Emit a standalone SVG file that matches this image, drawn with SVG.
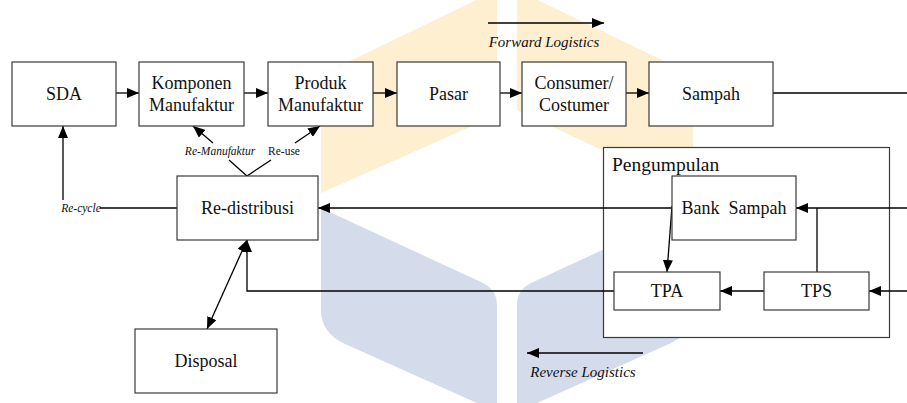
<svg xmlns="http://www.w3.org/2000/svg" width="907" height="403" viewBox="0 0 907 403">
  <style>
    .box { fill: #ffffff; stroke: #3a3a3a; stroke-width: 1.2; }
    .t { font-family: "Liberation Serif", "Times New Roman", Times, "DejaVu Serif", serif; font-size: 18px; fill: #111; text-anchor: middle; }
    .lbl { font-family: "Liberation Serif", "Times New Roman", Times, "DejaVu Serif", serif; font-size: 11.5px; fill: #111; text-anchor: middle; }
    .it { font-style: italic; }
    .edge { fill: none; stroke: #000; stroke-width: 1.3; }
    .arr { marker-end: url(#head); }
  </style>
  <defs>
    <marker id="head" markerUnits="userSpaceOnUse" markerWidth="12" markerHeight="10" viewBox="0 0 12 10" refX="12" refY="5" orient="auto-start-reverse">
      <path d="M0,0 L12,5 L0,10 Z" fill="#000"/>
    </marker>
  </defs>

  <!-- background emblem -->
  <g id="emblem">
    <path d="M321,75 L497,-10 L497,115 L321,193 Z" fill="#fdefd0"/>
    <path d="M517,-10 L693,75 L693,193 L517,110 Z" fill="#fdefd0"/>
    <path d="M321,208 L483,283 Q497,290 497,305 L497,412 L345,344 Q321,333 321,310 Z" fill="#d4dcec"/>
    <path d="M693,208 L531,283 Q517,290 517,305 L517,412 L669,344 Q693,333 693,310 Z" fill="#d4dcec"/>
  </g>

  <!-- collection area frame, under its own connectors -->
  <g id="pengumpulan">
    <rect class="box" x="603.5" y="147.5" width="286" height="190"/>
    <text class="t" x="612" y="171" style="text-anchor:start;font-size:19.5px">Pengumpulan</text>
  </g>

  <!-- connectors -->
  <g id="connectors">
    <line class="edge arr" x1="116" y1="93" x2="139" y2="93"/>
    <line class="edge arr" x1="244" y1="93" x2="268" y2="93"/>
    <line class="edge arr" x1="373" y1="93" x2="397" y2="93"/>
    <line class="edge arr" x1="500" y1="93" x2="522" y2="93"/>
    <line class="edge arr" x1="626" y1="93" x2="649" y2="93"/>
    <line class="edge" x1="773" y1="93" x2="907" y2="93"/>

    <!-- flow direction legends -->
    <line class="edge arr" x1="488" y1="23" x2="604" y2="23"/>
    <line class="edge arr" x1="643" y1="353" x2="527" y2="353"/>

    <!-- re-cycle back to SDA -->
    <line class="edge" x1="177" y1="208" x2="100" y2="208"/>
    <line class="edge arr" x1="63" y1="200" x2="63" y2="126"/>

    <!-- re-manufaktur / re-use -->
    <line class="edge" x1="247" y1="176" x2="229" y2="160"/>
    <line class="edge arr" x1="213" y1="143" x2="193" y2="126"/>
    <line class="edge" x1="247" y1="176" x2="271" y2="160"/>
    <line class="edge arr" x1="295" y1="143" x2="320" y2="126"/>

    <!-- return flows -->
    <line class="edge arr" x1="672" y1="208" x2="318" y2="208"/>
    <polyline class="edge arr" points="614,291 247,291 247,240"/>
    <line class="edge arr" x1="247" y1="240" x2="207" y2="329" marker-start="url(#head)"/>

    <!-- inside Pengumpulan -->
    <line class="edge arr" x1="672" y1="206" x2="667" y2="272"/>
    <line class="edge arr" x1="907" y1="208" x2="796" y2="208"/>
    <line class="edge" x1="817" y1="272" x2="817" y2="208"/>
    <line class="edge arr" x1="764" y1="291" x2="720" y2="291"/>
    <line class="edge arr" x1="907" y1="291" x2="869" y2="291"/>
  </g>

  <g id="sda">
    <rect class="box" x="12" y="62" width="104" height="64"/>
    <text class="t" x="64" y="100">SDA</text>
  </g>
  <g id="komponen">
    <rect class="box" x="139" y="62" width="105" height="64"/>
    <text class="t" x="191.5" y="89">Komponen</text>
    <text class="t" x="191.5" y="111">Manufaktur</text>
  </g>
  <g id="produk">
    <rect class="box" x="268" y="62" width="105" height="64"/>
    <text class="t" x="320.5" y="89">Produk</text>
    <text class="t" x="320.5" y="111">Manufaktur</text>
  </g>
  <g id="pasar">
    <rect class="box" x="397" y="62" width="103" height="64"/>
    <text class="t" x="448.5" y="100">Pasar</text>
  </g>
  <g id="consumer">
    <rect class="box" x="522" y="62" width="104" height="64"/>
    <text class="t" x="574" y="89">Consumer/</text>
    <text class="t" x="574" y="111">Costumer</text>
  </g>
  <g id="sampah">
    <rect class="box" x="649" y="62" width="124" height="64"/>
    <text class="t" x="711" y="100">Sampah</text>
  </g>

  <g id="redistribusi">
    <rect class="box" x="177" y="176" width="141" height="64"/>
    <text class="t" x="247.5" y="214">Re-distribusi</text>
  </g>
  <g id="disposal">
    <rect class="box" x="135" y="329" width="142" height="64"/>
    <text class="t" x="206" y="367">Disposal</text>
  </g>
  <g id="bank-sampah">
    <rect class="box" x="672" y="176" width="124" height="64"/>
    <text class="t" x="734" y="214" xml:space="preserve">Bank  Sampah</text>
  </g>
  <g id="tpa">
    <rect class="box" x="614" y="272" width="106" height="38"/>
    <text class="t" x="667" y="297">TPA</text>
  </g>
  <g id="tps">
    <rect class="box" x="764" y="272" width="105" height="38"/>
    <text class="t" x="816.5" y="297">TPS</text>
  </g>

  <g id="labels">
    <text class="lbl it" x="544" y="47" style="font-size:15px">Forward Logistics</text>
    <text class="lbl it" x="583" y="377" style="font-size:15px">Reverse Logistics</text>
    <text class="lbl it" x="81" y="212">Re-cycle</text>
    <text class="lbl it" x="220" y="155">Re-Manufaktur</text>
    <text class="lbl" x="284" y="155">Re-use</text>
  </g>
</svg>
